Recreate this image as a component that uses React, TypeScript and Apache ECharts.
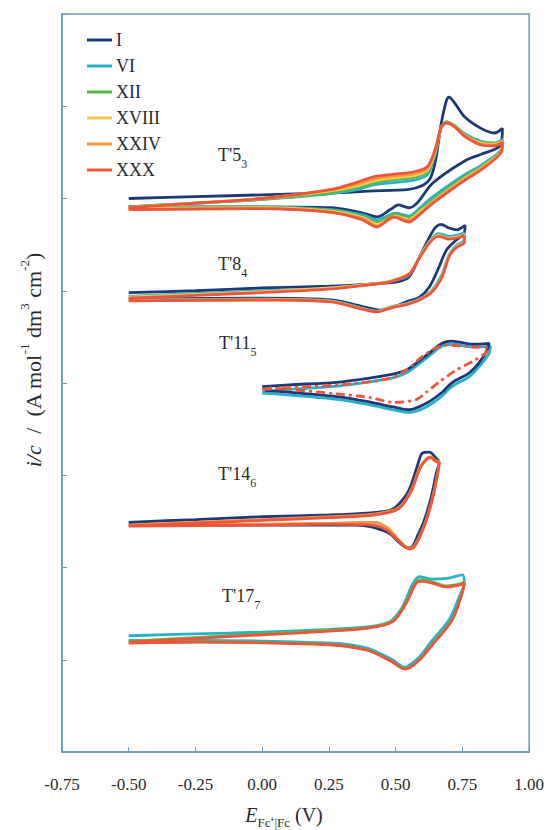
import React, { useEffect, useRef } from "react";
import * as echarts from "echarts";

// ---------- DATA (E in V vs Fc+|Fc, i/c in arbitrary offset units) ----------
const cycleNames = ["I", "VI", "XII", "XVIII", "XXIV", "XXX"];
const xTicks = [-0.75, -0.5, -0.25, 0, 0.25, 0.5, 0.75, 1.0];

// T'5_3
const t5_I = [[-0.5,6.00],[-0.25,6.02],[0.0,6.04],[0.25,6.06],[0.4,6.08],[0.55,6.10],[0.6,6.14],[0.63,6.22],[0.65,6.42],[0.67,6.80],[0.69,7.06],[0.70,7.10],[0.72,7.04],[0.76,6.88],[0.82,6.76],[0.87,6.71],[0.9,6.76],
  [0.89,6.57],[0.82,6.48],[0.76,6.41],[0.64,6.17],[0.58,5.95],[0.55,5.90],[0.51,5.93],[0.48,5.88],[0.43,5.80],[0.38,5.84],[0.26,5.90],[0.0,5.91],[-0.5,5.91]];
const t5_VI = [[-0.5,5.91],[-0.25,5.95],[0.0,5.99],[0.25,6.05],[0.36,6.10],[0.42,6.15],[0.48,6.17],[0.57,6.20],[0.62,6.26],[0.65,6.50],[0.67,6.76],[0.69,6.83],[0.72,6.79],[0.76,6.70],[0.82,6.62],[0.87,6.60],[0.9,6.64],
  [0.895,6.53],[0.82,6.36],[0.76,6.26],[0.64,6.02],[0.58,5.87],[0.55,5.81],[0.50,5.84],[0.43,5.77],[0.38,5.82],[0.26,5.88],[0.0,5.91],[-0.5,5.90]];
const t5_XII = [[-0.5,5.91],[-0.25,5.95],[0.0,5.99],[0.25,6.06],[0.36,6.12],[0.42,6.17],[0.48,6.20],[0.57,6.23],[0.62,6.29],[0.65,6.52],[0.67,6.77],[0.69,6.83],[0.72,6.79],[0.76,6.69],[0.82,6.61],[0.87,6.60],[0.9,6.63],
  [0.895,6.52],[0.82,6.34],[0.76,6.24],[0.64,5.99],[0.58,5.85],[0.55,5.79],[0.50,5.83],[0.43,5.74],[0.38,5.80],[0.26,5.87],[0.0,5.90],[-0.5,5.89]];
const t5_XVIII = [[-0.5,5.90],[-0.25,5.95],[0.0,6.00],[0.25,6.08],[0.36,6.14],[0.42,6.19],[0.48,6.22],[0.57,6.25],[0.62,6.31],[0.65,6.53],[0.67,6.77],[0.69,6.82],[0.72,6.78],[0.76,6.68],[0.82,6.60],[0.87,6.59],[0.9,6.62],
  [0.895,6.51],[0.82,6.33],[0.76,6.22],[0.64,5.97],[0.58,5.83],[0.55,5.77],[0.50,5.81],[0.43,5.72],[0.38,5.79],[0.26,5.86],[0.0,5.90],[-0.5,5.89]];
const t5_XXIV = [[-0.5,5.90],[-0.25,5.95],[0.0,6.00],[0.25,6.09],[0.36,6.16],[0.42,6.21],[0.48,6.24],[0.57,6.27],[0.62,6.33],[0.65,6.54],[0.67,6.77],[0.69,6.82],[0.72,6.78],[0.76,6.68],[0.82,6.59],[0.87,6.58],[0.9,6.61],
  [0.895,6.50],[0.82,6.32],[0.76,6.21],[0.64,5.96],[0.58,5.81],[0.55,5.76],[0.50,5.80],[0.43,5.70],[0.38,5.78],[0.26,5.85],[0.0,5.89],[-0.5,5.88]];
const t5_XXX = [[-0.5,5.90],[-0.25,5.95],[0.0,6.00],[0.26,6.10],[0.36,6.18],[0.41,6.23],[0.48,6.26],[0.57,6.29],[0.62,6.35],[0.65,6.55],[0.67,6.77],[0.69,6.82],[0.72,6.78],[0.76,6.67],[0.82,6.58],[0.87,6.57],[0.9,6.61],
  [0.895,6.50],[0.82,6.31],[0.76,6.20],[0.64,5.95],[0.58,5.80],[0.55,5.745],[0.49,5.80],[0.43,5.69],[0.375,5.77],[0.26,5.85],[0.0,5.89],[-0.5,5.88]];

// T'8_4
const t8_I = [[-0.5,4.98],[-0.25,5.00],[0.0,5.03],[0.25,5.05],[0.39,5.07],[0.51,5.10],[0.55,5.15],[0.59,5.37],[0.63,5.60],[0.65,5.69],[0.67,5.72],[0.70,5.68],[0.73,5.66],[0.75,5.69],[0.76,5.71],
  [0.757,5.63],[0.727,5.55],[0.69,5.44],[0.663,5.26],[0.626,5.04],[0.589,4.93],[0.54,4.88],[0.488,4.82],[0.44,4.79],[0.39,4.82],[0.26,4.90],[0.0,4.92],[-0.5,4.91]];
const t8_VI = [[-0.5,4.94],[-0.25,4.97],[0.0,5.00],[0.26,5.03],[0.39,5.065],[0.48,5.10],[0.55,5.17],[0.59,5.37],[0.63,5.55],[0.66,5.62],[0.70,5.59],[0.74,5.61],[0.757,5.63],
  [0.757,5.55],[0.727,5.49],[0.70,5.39],[0.674,5.18],[0.637,5.01],[0.589,4.91],[0.54,4.86],[0.488,4.83],[0.43,4.78],[0.375,4.81],[0.26,4.89],[0.0,4.91],[-0.5,4.90]];
const t8_XVIII = [[-0.5,4.93],[-0.25,4.96],[0.0,4.99],[0.26,5.03],[0.39,5.065],[0.48,5.105],[0.55,5.185],[0.59,5.37],[0.63,5.54],[0.66,5.60],[0.70,5.57],[0.74,5.59],[0.757,5.61],
  [0.757,5.53],[0.727,5.48],[0.70,5.38],[0.674,5.16],[0.637,5.00],[0.589,4.905],[0.54,4.855],[0.488,4.825],[0.43,4.775],[0.375,4.805],[0.26,4.885],[0.0,4.905],[-0.5,4.895]];
const t8_XXX = [[-0.5,4.92],[-0.25,4.95],[0.0,4.98],[0.26,5.02],[0.39,5.06],[0.48,5.10],[0.55,5.18],[0.59,5.36],[0.63,5.53],[0.66,5.59],[0.70,5.56],[0.74,5.58],[0.755,5.60],
  [0.757,5.52],[0.727,5.47],[0.70,5.37],[0.674,5.15],[0.637,4.99],[0.589,4.90],[0.54,4.85],[0.488,4.82],[0.43,4.77],[0.375,4.80],[0.26,4.88],[0.0,4.90],[-0.5,4.89]];

// T'11_5
const t11_I = [[0.0,3.96],[0.1,3.98],[0.29,4.01],[0.48,4.09],[0.54,4.14],[0.615,4.30],[0.674,4.43],[0.71,4.455],[0.79,4.42],[0.85,4.43],
  [0.843,4.36],[0.813,4.22],[0.776,4.11],[0.71,4.0],[0.674,3.90],[0.615,3.78],[0.55,3.71],[0.49,3.74],[0.41,3.79],[0.29,3.85],[0.1,3.90],[0.01,3.92]];
const t11_VI = [[0.0,3.90],[0.1,3.93],[0.29,3.97],[0.48,4.05],[0.54,4.11],[0.615,4.27],[0.674,4.40],[0.71,4.42],[0.79,4.39],[0.855,4.40],
  [0.85,4.32],[0.813,4.18],[0.776,4.07],[0.71,3.96],[0.674,3.86],[0.615,3.74],[0.55,3.68],[0.49,3.71],[0.41,3.76],[0.29,3.82],[0.1,3.87],[0.0,3.89]];
const t11_XXX = [[0.0,3.93],[0.1,3.95],[0.29,3.98],[0.48,4.05],[0.54,4.14],[0.615,4.32],[0.69,4.41],[0.79,4.39],[0.85,4.38],
  [0.84,4.33],[0.787,4.23],[0.727,4.14],[0.663,4.01],[0.615,3.90],[0.577,3.82],[0.49,3.79],[0.41,3.84],[0.29,3.88],[0.1,3.93],[0.01,3.95]];

// T'14_6
const t14_I = [[-0.5,2.49],[-0.25,2.52],[0.0,2.55],[0.25,2.57],[0.39,2.59],[0.48,2.62],[0.51,2.68],[0.55,2.84],[0.58,3.09],[0.60,3.24],[0.626,3.25],[0.65,3.19],[0.663,3.14],
  [0.652,3.02],[0.633,2.76],[0.607,2.51],[0.58,2.33],[0.56,2.22],[0.544,2.215],[0.514,2.27],[0.476,2.37],[0.41,2.44],[0.35,2.46],[0.0,2.46],[-0.5,2.46]];
const t14_XXIV = [[-0.5,2.46],[-0.25,2.49],[0.0,2.52],[0.25,2.55],[0.39,2.57],[0.48,2.61],[0.52,2.67],[0.56,2.85],[0.59,3.08],[0.615,3.18],[0.63,3.20],[0.65,3.16],[0.663,3.14],
  [0.655,2.99],[0.636,2.73],[0.61,2.48],[0.585,2.31],[0.565,2.22],[0.55,2.21],[0.514,2.29],[0.47,2.43],[0.42,2.49],[0.37,2.49],[0.26,2.48],[0.0,2.47],[-0.5,2.46]];
const t14_XXX = [[-0.5,2.45],[-0.25,2.48],[0.0,2.51],[0.25,2.54],[0.39,2.56],[0.48,2.60],[0.52,2.66],[0.56,2.84],[0.59,3.07],[0.615,3.17],[0.63,3.19],[0.65,3.15],[0.663,3.13],
  [0.655,2.98],[0.636,2.72],[0.61,2.47],[0.585,2.30],[0.565,2.21],[0.55,2.20],[0.514,2.28],[0.465,2.41],[0.413,2.46],[0.26,2.47],[0.0,2.46],[-0.5,2.45]];

// T'17_7
const t17_VI = [[-0.5,1.26],[-0.25,1.28],[0.0,1.30],[0.25,1.33],[0.39,1.355],[0.476,1.41],[0.525,1.57],[0.562,1.81],[0.589,1.90],[0.637,1.875],[0.70,1.886],[0.75,1.92],
  [0.757,1.83],[0.738,1.68],[0.70,1.43],[0.637,1.21],[0.589,1.03],[0.551,0.94],[0.533,0.92],[0.488,1.00],[0.439,1.07],[0.39,1.13],[0.263,1.18],[-0.235,1.21],[-0.5,1.21]];
const t17_XII = [[-0.5,1.20],[-0.25,1.24],[0.0,1.28],[0.25,1.32],[0.39,1.345],[0.488,1.42],[0.54,1.63],[0.577,1.845],[0.60,1.865],[0.637,1.845],[0.689,1.80],[0.738,1.82],[0.757,1.84],
  [0.749,1.73],[0.712,1.44],[0.637,1.17],[0.589,1.005],[0.551,0.915],[0.533,0.905],[0.488,0.98],[0.439,1.055],[0.39,1.11],[0.263,1.165],[-0.235,1.195],[-0.5,1.185]];
const t17_XXX = [[-0.5,1.19],[-0.25,1.23],[0.0,1.27],[0.25,1.31],[0.39,1.34],[0.488,1.41],[0.54,1.615],[0.577,1.83],[0.60,1.85],[0.637,1.83],[0.689,1.79],[0.738,1.81],[0.757,1.83],
  [0.749,1.72],[0.712,1.43],[0.637,1.16],[0.589,0.997],[0.551,0.91],[0.533,0.90],[0.488,0.976],[0.439,1.05],[0.39,1.106],[0.263,1.16],[-0.235,1.19],[-0.5,1.18]];

const groupLabels = [["T'5", "3"], ["T'8", "4"], ["T'11", "5"], ["T'14", "6"], ["T'17", "7"]];

// ---------- STYLE ----------
const SERIF = "'Liberation Serif', 'Times New Roman', serif";
const colors: Record<string, string> = {
  I: "#1d3a78",
  VI: "#27b2cc",
  XII: "#5cb846",
  XVIII: "#f4cb55",
  XXIV: "#f7983d",
  XXX: "#ee553b",
};
const frameColor = "#6a9dbd";
const labelPos = [
  { x: 218, y: 158 },
  { x: 218, y: 267 },
  { x: 219, y: 346 },
  { x: 218, y: 477 },
  { x: 222, y: 599 },
];

const curves: { name: string; data: number[][]; dashed?: boolean }[] = [
  { name: "I", data: t5_I },
  { name: "VI", data: t5_VI },
  { name: "XII", data: t5_XII },
  { name: "XVIII", data: t5_XVIII },
  { name: "XXIV", data: t5_XXIV },
  { name: "XXX", data: t5_XXX },
  { name: "I", data: t8_I },
  { name: "VI", data: t8_VI },
  { name: "XVIII", data: t8_XVIII },
  { name: "XXX", data: t8_XXX },
  { name: "VI", data: t11_VI },
  { name: "I", data: t11_I },
  { name: "XXX", data: t11_XXX, dashed: true },
  { name: "I", data: t14_I },
  { name: "XXIV", data: t14_XXIV },
  { name: "XXX", data: t14_XXX },
  { name: "VI", data: t17_VI },
  { name: "XII", data: t17_XII },
  { name: "XXX", data: t17_XXX },
];

function buildOption() {
  const series = curves.map((c) => ({
    type: "line",
    name: c.name,
    data: c.data,
    showSymbol: false,
    symbol: "none",
    smooth: 0.3,
    lineStyle: {
      color: colors[c.name],
      width: 2.8,
      type: c.dashed ? [9, 4, 3, 4] : "solid",
    },
    itemStyle: { color: colors[c.name] },
    emphasis: { disabled: true },
  }));

  const textColor = "#2a2a2a";
  const groupGraphics = groupLabels.map((g, i) => ({
    type: "text",
    x: labelPos[i].x,
    y: labelPos[i].y - 12,
    style: {
      text: `{a|${g[0]}}{s|${g[1]}}`,
      align: "left",
      verticalAlign: "top",
      rich: {
        a: { fontSize: 18, fontFamily: SERIF, lineHeight: 24, verticalAlign: "top", fill: textColor },
        s: { fontSize: 12, fontFamily: SERIF, lineHeight: 14, verticalAlign: "bottom", fill: textColor },
      },
    },
  }));

  const yTitle = {
    type: "text",
    x: 31,
    y: 360,
    rotation: Math.PI / 2,
    style: {
      text: "{i|i/c}{n|  /  (A mol}{p|-1}{n| dm}{p|3}{n| cm}{p|-2}{n|)}",
      align: "center",
      verticalAlign: "middle",
      rich: {
        i: { fontSize: 22, fontFamily: SERIF, fontStyle: "italic", lineHeight: 26, verticalAlign: "bottom", fill: textColor },
        n: { fontSize: 22, fontFamily: SERIF, lineHeight: 26, verticalAlign: "bottom", fill: textColor },
        p: { fontSize: 13, fontFamily: SERIF, lineHeight: 14, verticalAlign: "top", fill: textColor },
      },
    },
  };

  const xTitle = {
    type: "text",
    x: 284,
    y: 805,
    style: {
      text: "{e|E}{s|Fc⁺|Fc}{n| (V)}",
      align: "center",
      verticalAlign: "top",
      rich: {
        e: { fontSize: 20, fontFamily: SERIF, fontStyle: "italic", lineHeight: 24, verticalAlign: "top", fill: textColor },
        s: { fontSize: 13, fontFamily: SERIF, lineHeight: 14, verticalAlign: "bottom", fill: textColor },
        n: { fontSize: 20, fontFamily: SERIF, lineHeight: 24, verticalAlign: "top", fill: textColor },
      },
    },
  };

  return {
    animation: false,
    backgroundColor: "#ffffff",
    grid: {
      left: 62,
      top: 14,
      right: 17,
      bottom: 78,
      show: true,
      borderColor: frameColor,
      borderWidth: 1.5,
      containLabel: false,
    },
    legend: {
      data: cycleNames,
      orient: "vertical",
      left: 82,
      top: 26,
      icon: "rect",
      itemWidth: 25,
      itemHeight: 3,
      itemGap: 8,
      selectedMode: false,
      textStyle: { fontFamily: SERIF, fontSize: 18, color: textColor, padding: [0, 0, 0, -1] },
    },
    xAxis: {
      type: "value",
      min: xTicks[0],
      max: xTicks[xTicks.length - 1],
      interval: 0.25,
      axisLine: { show: true, onZero: false, lineStyle: { color: frameColor, width: 1.5 } },
      axisTick: { show: true, inside: true, length: 5, lineStyle: { color: frameColor } },
      splitLine: { show: false },
      axisLabel: {
        margin: 24,
        fontFamily: SERIF,
        fontSize: 17,
        color: textColor,
        formatter: (v: number) => v.toFixed(2),
      },
    },
    yAxis: {
      type: "value",
      min: 0,
      max: 8,
      interval: 1,
      axisLine: { show: true, onZero: false, lineStyle: { color: frameColor, width: 1.5 } },
      axisTick: { show: true, inside: true, length: 5, lineStyle: { color: frameColor } },
      splitLine: { show: false },
      axisLabel: { show: false },
    },
    graphic: [...groupGraphics, yTitle, xTitle],
    series,
  };
}

export default function App() {
  const ref = useRef<HTMLDivElement>(null);
  useEffect(() => {
    if (!ref.current) return;
    const chart = echarts.init(ref.current, null, { renderer: "svg" });
    chart.setOption(buildOption() as any);
    return () => chart.dispose();
  }, []);
  return (
    <div
      ref={ref}
      style={{ position: "absolute", left: 0, top: 0, width: 547, height: 830, background: "#fff" }}
    />
  );
}
